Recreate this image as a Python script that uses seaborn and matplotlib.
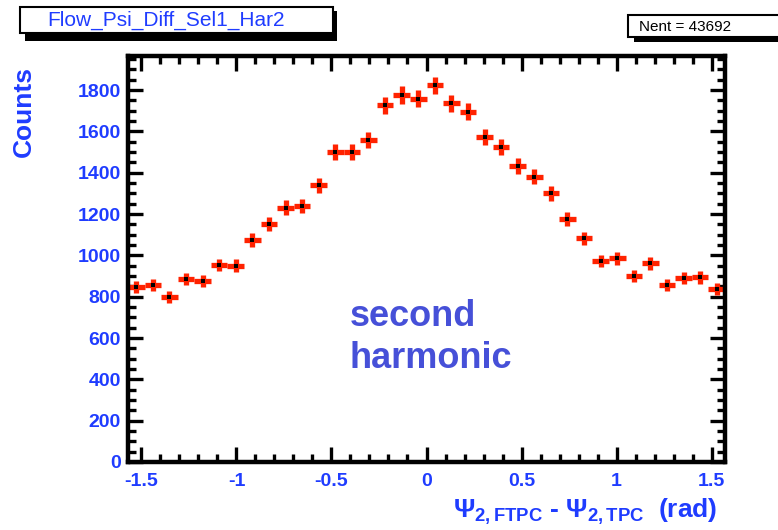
import numpy as np
import matplotlib
matplotlib.use("Agg")
import matplotlib.pyplot as plt
from matplotlib.patches import Rectangle
from matplotlib.ticker import MultipleLocator
import seaborn as sns

# ====================== data ======================
n_bins = 36
x_range = (-np.pi / 2, np.pi / 2)
counts = [846, 857, 799, 885, 877, 953, 950, 1074, 1154, 1231, 1240, 1339,
          1498, 1502, 1559, 1726, 1776, 1758, 1823, 1736, 1696, 1573, 1525, 1433,
          1381, 1301, 1175, 1082, 973, 985, 901, 962, 857, 890, 893, 837]
title = "Flow_Psi_Diff_Sel1_Har2"
stats_text = "Nent = 43692"
note = "second\nharmonic"

edges = np.linspace(x_range[0], x_range[1], n_bins + 1)
centers = 0.5 * (edges[:-1] + edges[1:])
half_w = 0.5 * (edges[1] - edges[0])
errs = np.sqrt(counts)

# ====================== style ======================
sns.set_style("ticks")
plt.rcParams['font.family'] = ['Liberation Sans', 'DejaVu Sans']
plt.rcParams['mathtext.fontset'] = 'custom'
plt.rcParams['mathtext.rm'] = 'Liberation Sans:bold'
plt.rcParams['mathtext.bf'] = 'Liberation Sans:bold'
plt.rcParams['mathtext.it'] = 'Liberation Sans:bold'

blue = '#1f3cff'
W, H = 778, 530

fig = plt.figure(figsize=(W / 100, H / 100), dpi=100)
ax = fig.add_axes([128 / W, 1 - 462 / H, (725 - 128) / W, (462 - 56) / H])

ax.errorbar(centers, counts, xerr=half_w, yerr=errs, fmt='none',
            ecolor='#ff2200', elinewidth=3.8, capsize=0, zorder=2)
sns.scatterplot(x=centers, y=counts, ax=ax, color='black', marker='s',
                s=5, linewidth=0, zorder=3, legend=False)

ax.set_xlim(*x_range)
ax.set_ylim(0, 1965)
ax.xaxis.set_major_locator(MultipleLocator(0.5))
ax.xaxis.set_minor_locator(MultipleLocator(0.1))
ax.yaxis.set_major_locator(MultipleLocator(200))
ax.yaxis.set_minor_locator(MultipleLocator(50))
ax.set_xticks([-1.5, -1, -0.5, 0, 0.5, 1, 1.5])
ax.set_xticklabels(['-1.5', '-1', '-0.5', '0', '0.5', '1', '1.5'])

for s in ax.spines.values():
    s.set_linewidth(3.2)
    s.set_color('black')
ax.tick_params(which='both', direction='in', top=True, right=True,
               color='black', width=2.4)
ax.tick_params(which='major', length=11)
ax.tick_params(which='minor', length=5.5)
ax.tick_params(axis='y', which='major', pad=5, labelsize=14, labelcolor=blue)
ax.tick_params(axis='x', which='major', pad=8, labelsize=14, labelcolor=blue)
for lab in ax.get_xticklabels() + ax.get_yticklabels():
    lab.set_fontweight('bold')
ax.set_xlabel('')
ax.set_ylabel('')

# axis titles
fig.text(24 / W, 1 - 111 / H, 'Counts', rotation=90, ha='center', va='center',
         fontsize=19, fontweight='bold', color=blue)
fig.text(717 / W, 1 - 518 / H,
         r'$\Psi_{2,FTPC}$ - $\Psi_{2,TPC}$  (rad)',
         ha='right', va='baseline', fontsize=19, fontweight='bold', color=blue)

# note
fig.text(350 / W, 1 - 299 / H, note, ha='left', va='top', fontsize=26,
         fontweight='bold', color='#4650d8', linespacing=1.25)

# title box with shadow
def box(x0, y0, x1, y1, **kw):
    fig.patches.append(Rectangle((x0 / W, 1 - y1 / H), (x1 - x0) / W, (y1 - y0) / H,
                                 transform=fig.transFigure, **kw))

box(25, 11, 337, 41, facecolor='black', edgecolor='none')
box(20, 7, 333, 33, facecolor='white', edgecolor='black', linewidth=1.5)
fig.text(47 / W, 1 - 20 / H, title, ha='left', va='center', fontsize=15, color=blue)

# stats box
box(634, 19, 790, 42, facecolor='black', edgecolor='none')
box(628, 15, 790, 37, facecolor='white', edgecolor='black', linewidth=1.5)
fig.text(639 / W, 1 - 27 / H, stats_text, ha='left', va='center', fontsize=11,
         color='black')

plt.savefig("out.png", dpi=100)
plt.close()
